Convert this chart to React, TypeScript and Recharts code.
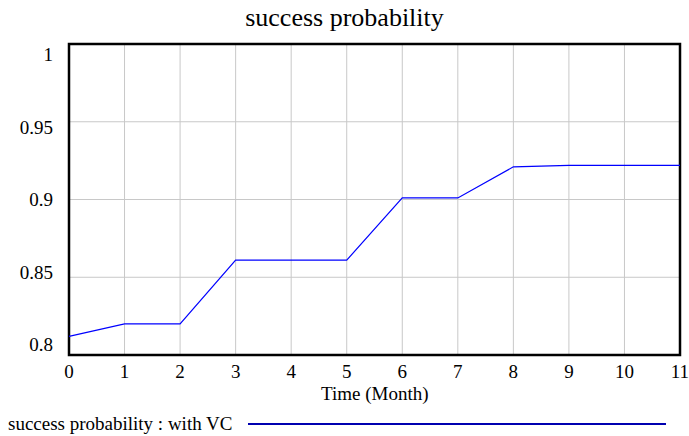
import { LineChart, Line, XAxis, YAxis, CartesianGrid, ReferenceArea } from 'recharts';

const months = [0, 1, 2, 3, 4, 5, 6, 7, 8, 9, 10, 11];
const withVC = [0.812, 0.82, 0.82, 0.861, 0.861, 0.861, 0.901, 0.901, 0.921, 0.922, 0.922, 0.922];
const yTicks = [0.8, 0.85, 0.9, 0.95, 1];

const data = months.map((m, i) => ({ month: m, value: withVC[i] }));

const font = '"Liberation Serif", "Times New Roman", serif';

// y labels in the original sit a little inward from the grid lines
const YTick = ({ x, y, payload }: any) => (
  <text
    x={x}
    y={y + (payload.value - 0.9) * 105}
    dy="0.355em"
    textAnchor="end"
    fill="#000"
    fontSize={19}
    fontFamily={font}
  >
    {payload.value}
  </text>
);

export default function App() {
  return (
    <div style={{ position: 'absolute', left: 0, top: 0, width: 689, height: 436, background: '#fff', fontFamily: font }}>
      <style>{`svg text { font-family: ${font}; }`}</style>
      <div style={{ position: 'absolute', left: 0, width: 689, top: 3, textAlign: 'center', fontSize: 26, color: '#000' }}>
        success probability
      </div>
      <LineChart width={689} height={436} data={data} margin={{ top: 44, right: 9, bottom: 0, left: 0 }}>
        <CartesianGrid stroke="#c8c8c8" strokeWidth={1} />
        <XAxis
          dataKey="month"
          type="number"
          domain={[0, 11]}
          ticks={months}
          tickLine={false}
          axisLine={false}
          tickSize={0}
          tickMargin={10}
          height={81}
          tick={{ fill: '#000', fontSize: 19, fontFamily: font }}
        />
        <YAxis
          type="number"
          domain={[0.8, 1]}
          ticks={yTicks}
          tickLine={false}
          axisLine={false}
          tickSize={0}
          tickMargin={16}
          width={69}
          tick={<YTick />}
        />
        <ReferenceArea x1={0} x2={11} y1={0.8} y2={1} fill="none" stroke="#000" strokeWidth={2.5} ifOverflow="visible" />
        <Line type="linear" dataKey="value" stroke="#0000ff" strokeWidth={1.2} dot={false} isAnimationActive={false} />
      </LineChart>
      <div style={{ position: 'absolute', left: 321, top: 383, fontSize: 19, color: '#000' }}>Time (Month)</div>
      <div style={{ position: 'absolute', left: 8, top: 413, fontSize: 19, color: '#000' }}>success probability : with VC</div>
      <div style={{ position: 'absolute', left: 248, top: 423, width: 418, height: 1.5, background: '#0000b0' }} />
    </div>
  );
}
